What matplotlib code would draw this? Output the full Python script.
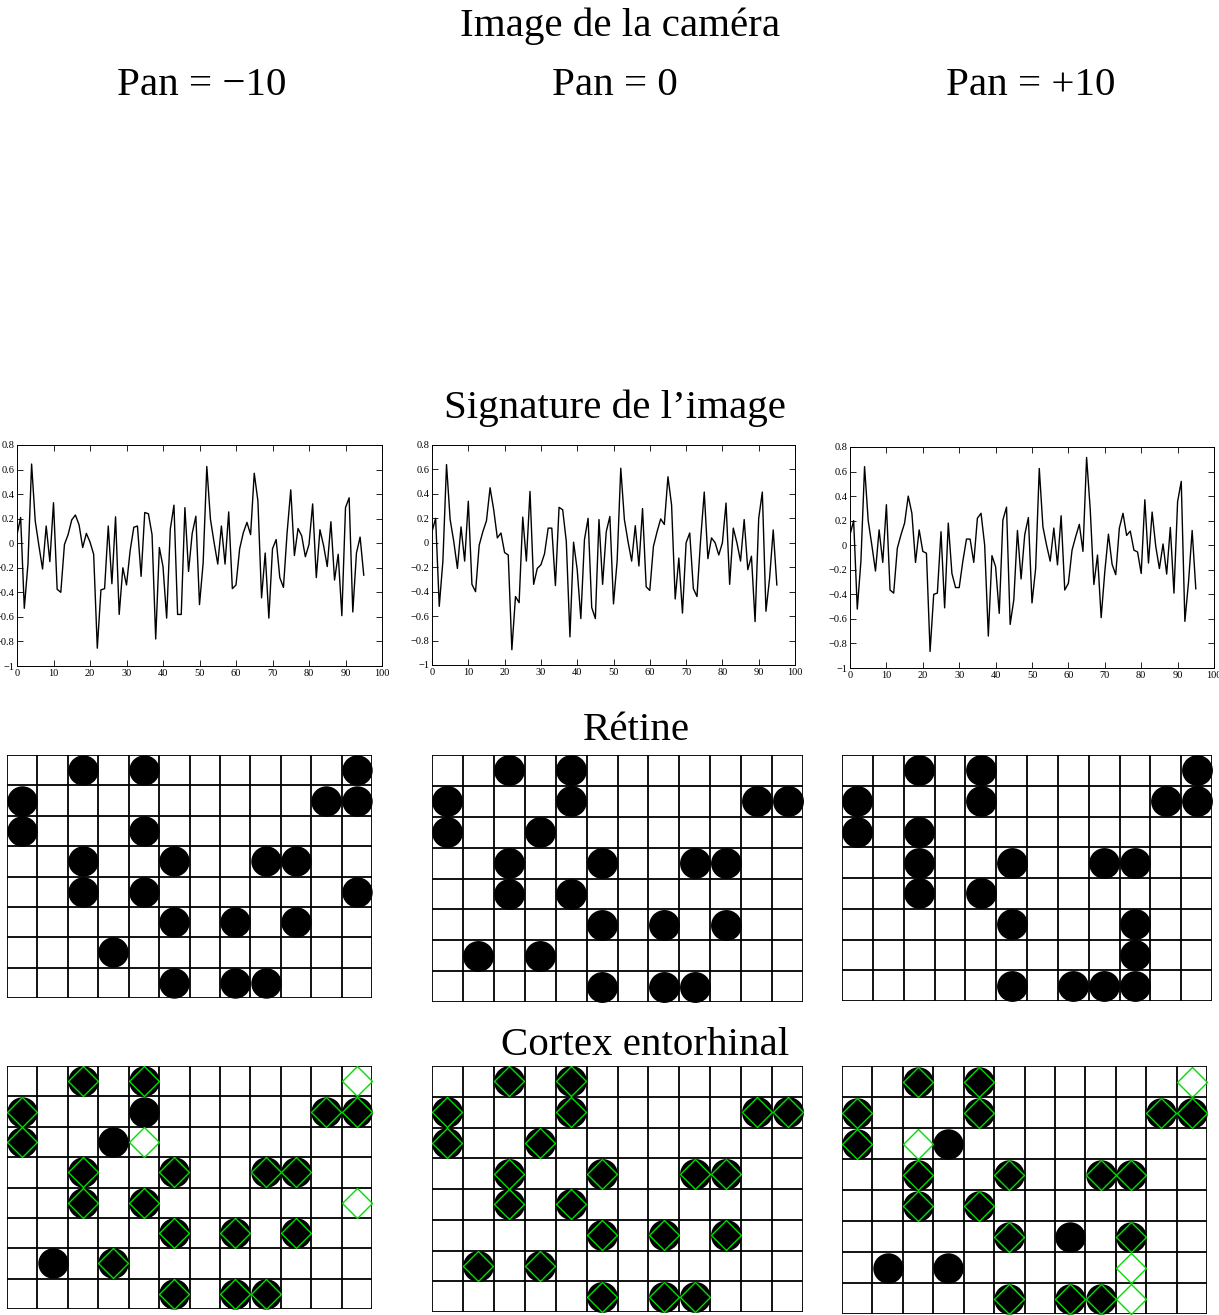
import numpy as np
import matplotlib
matplotlib.use("Agg")
import matplotlib.pyplot as plt

plt.rcParams['font.family'] = ['Liberation Serif', 'DejaVu Serif']

W, H, DPI = 1219, 1315, 100

# ---------------- data ----------------
pan_labels = ["Pan = \u221210", "Pan = 0", "Pan = +10"]

sig_x = list(range(96))
sig_m10 = [0.07, 0.21, -0.53, -0.17, 0.645, 0.18, -0.02, -0.21, 0.14, -0.15,
           0.33, -0.375, -0.40, -0.01, 0.07, 0.19, 0.23, 0.15, -0.035, 0.08,
           0.01, -0.09, -0.855, -0.38, -0.37, 0.14, -0.33, 0.215, -0.58, -0.2,
           -0.34, -0.06, 0.13, 0.14, -0.27, 0.25, 0.24, 0.07, -0.78, -0.035,
           -0.19, -0.61, 0.115, 0.31, -0.58, -0.58, 0.29, -0.23, 0.08, 0.22,
           -0.50, -0.16, 0.625, 0.195, 0.005, -0.17, 0.14, -0.17, 0.255, -0.37,
           -0.34, -0.045, 0.085, 0.17, 0.07, 0.57, 0.345, -0.445, -0.08, -0.61,
           -0.045, 0.03, -0.28, -0.36, 0.085, 0.435, -0.10, 0.12, 0.06, -0.11,
           -0.01, 0.32, -0.28, 0.11, -0.02, -0.19, 0.175, -0.30, -0.09, -0.59,
           0.29, 0.37, -0.56, -0.08, 0.05, -0.26]
sig_0 = [0.09, 0.20, -0.52, -0.15, 0.64, 0.19, 0.01, -0.21, 0.13, -0.15,
         0.34, -0.34, -0.40, -0.02, 0.09, 0.18, 0.45, 0.27, 0.04, 0.08,
         -0.08, -0.10, -0.875, -0.44, -0.49, 0.21, -0.15, 0.42, -0.34, -0.21,
         -0.18, -0.09, 0.12, 0.12, -0.35, 0.29, 0.27, 0.01, -0.77, 0.005,
         -0.22, -0.62, 0.025, 0.20, -0.53, -0.62, 0.19, -0.34, 0.09, 0.215,
         -0.50, -0.15, 0.61, 0.19, 0.01, -0.15, 0.14, -0.19, 0.28, -0.36,
         -0.39, -0.03, 0.09, 0.195, 0.15, 0.54, 0.31, -0.46, -0.125, -0.575,
         0.0, 0.08, -0.375, -0.44, 0.025, 0.415, -0.13, 0.04, 0.0, -0.10,
         0.0, 0.325, -0.34, 0.12, 0.0, -0.15, 0.19, -0.22, -0.11, -0.645,
         0.20, 0.415, -0.56, -0.29, 0.105, -0.345]
sig_p10 = [0.085, 0.20, -0.52, -0.13, 0.64, 0.20, 0.0, -0.21, 0.125, -0.14,
           0.33, -0.365, -0.39, -0.025, 0.085, 0.18, 0.40, 0.26, -0.14, 0.125,
           -0.05, -0.065, -0.865, -0.40, -0.39, 0.11, -0.51, 0.18, -0.23, -0.345,
           -0.345, -0.13, 0.05, 0.05, -0.14, 0.22, 0.26, 0.0, -0.74, -0.085,
           -0.175, -0.555, 0.205, 0.31, -0.645, -0.445, 0.12, -0.275, 0.085, 0.225,
           -0.47, -0.19, 0.625, 0.15, 0.0, -0.13, 0.14, -0.16, 0.24, -0.365,
           -0.31, -0.04, 0.07, 0.17, -0.05, 0.715, 0.29, -0.32, -0.08, -0.59,
           -0.215, 0.09, -0.155, -0.24, 0.14, 0.26, 0.08, 0.115, -0.04, -0.055,
           -0.23, 0.37, -0.145, 0.27, -0.01, -0.19, 0.01, -0.235, 0.145, -0.39,
           0.355, 0.52, -0.62, -0.30, 0.12, -0.355]

x_ticks = [0, 10, 20, 30, 40, 50, 60, 70, 80, 90, 100]
x_ticklabels = ["0", "10", "20", "30", "40", "50", "60", "70", "80", "90", "100"]
y_ticks = [-1, -0.8, -0.6, -0.4, -0.2, 0, 0.2, 0.4, 0.6, 0.8]
y_ticklabels = ["\u22121", "\u22120.8", "\u22120.6", "\u22120.4", "\u22120.2",
                "0", "0.2", "0.4", "0.6", "0.8"]

n_cols, n_rows = 12, 8
# active cells, listed per row (top to bottom) as column indices
retina_m10 = [[2, 4, 11], [0, 10, 11], [0, 4], [2, 5, 8, 9], [2, 4, 11], [5, 7, 9], [3], [5, 7, 8]]
retina_0 = [[2, 4], [0, 4, 10, 11], [0, 3], [2, 5, 8, 9], [2, 4], [5, 7, 9], [1, 3], [5, 7, 8]]
retina_p10 = [[2, 4, 11], [0, 4, 10, 11], [0, 2], [2, 5, 8, 9], [2, 4], [5, 9], [9], [5, 7, 8, 9]]

# entorhinal cortex: stored reference (circles) vs current retina (diamonds)
cortex_circles = [retina_0, retina_0, retina_0]
cortex_diamonds = [retina_m10, retina_0, retina_p10]

signatures = [sig_m10, sig_0, sig_p10]
retinas = [retina_m10, retina_0, retina_p10]

# ---------------- layout (pixels) ----------------
sig_boxes = [(17, 382, 445, 666), (432, 795, 445, 665), (850, 1214, 447, 668)]
ret_boxes = [(7, 372, 755, 998), (432, 803, 755, 1002), (842, 1212, 755, 1001)]
ctx_boxes = [(7, 372, 1066, 1309), (432, 803, 1066, 1312), (842, 1207, 1066, 1314)]

fig = plt.figure(figsize=(W / DPI, H / DPI), dpi=DPI)


def add_ax(box):
    x0, x1, yt, yb = box
    return fig.add_axes([x0 / W, (H - yb) / H, (x1 - x0) / W, (yb - yt) / H])


def fig_text(x, y_base, s, size=29.5):
    fig.text(x / W, 1 - y_base / H, s, ha="center", va="baseline", fontsize=size)


fig_text(620, 36, "Image de la cam\u00e9ra")
for cx, lab in zip([202, 615, 1031], pan_labels):
    fig_text(cx, 95, lab)
fig_text(615, 418, "Signature de l\u2019image")
fig_text(636, 740, "R\u00e9tine")
fig_text(645, 1055, "Cortex entorhinal")

# signature plots
for box, sig in zip(sig_boxes, signatures):
    ax = add_ax(box)
    ax.plot(sig_x, sig, color="black", linewidth=1.0)
    ax.set_xlim(0, 100)
    ax.set_ylim(-1, 0.8)
    ax.set_xticks(x_ticks)
    ax.set_xticklabels(x_ticklabels)
    ax.set_yticks(y_ticks)
    ax.set_yticklabels(y_ticklabels)
    ax.tick_params(direction="in", top=True, right=True, length=4, width=0.6,
                   labelsize=7.5, pad=2)
    for sp in ax.spines.values():
        sp.set_linewidth(0.7)


def grid_ax(box):
    ax = add_ax(box)
    ax.set_xlim(0, n_cols)
    ax.set_ylim(n_rows, 0)
    for i in range(n_cols + 1):
        ax.axvline(i, color="black", linewidth=1.3, zorder=1)
    for j in range(n_rows + 1):
        ax.axhline(j, color="black", linewidth=1.3, zorder=1)
    ax.set_xticks([])
    ax.set_yticks([])
    for sp in ax.spines.values():
        sp.set_visible(False)
    cell_pt = (box[1] - box[0]) / n_cols * 72 / DPI
    return ax, cell_pt


def cells(pattern):
    xs, ys = [], []
    for r, cols in enumerate(pattern):
        for c in cols:
            xs.append(c + 0.5)
            ys.append(r + 0.5)
    return xs, ys


for box, pat in zip(ret_boxes, retinas):
    ax, cell_pt = grid_ax(box)
    xs, ys = cells(pat)
    ax.plot(xs, ys, "o", color="black", markersize=cell_pt, markeredgewidth=0,
            zorder=3, clip_on=False)

for box, circ, diam in zip(ctx_boxes, cortex_circles, cortex_diamonds):
    ax, cell_pt = grid_ax(box)
    xs, ys = cells(circ)
    ax.plot(xs, ys, "o", color="black", markersize=cell_pt, markeredgewidth=0,
            zorder=3, clip_on=False)
    xs, ys = cells(diam)
    ax.plot(xs, ys, "D", markerfacecolor="none", markeredgecolor="#00dd00",
            markersize=cell_pt / np.sqrt(2), markeredgewidth=1.0, zorder=4,
            clip_on=False)

fig.savefig("out.png", dpi=DPI)
